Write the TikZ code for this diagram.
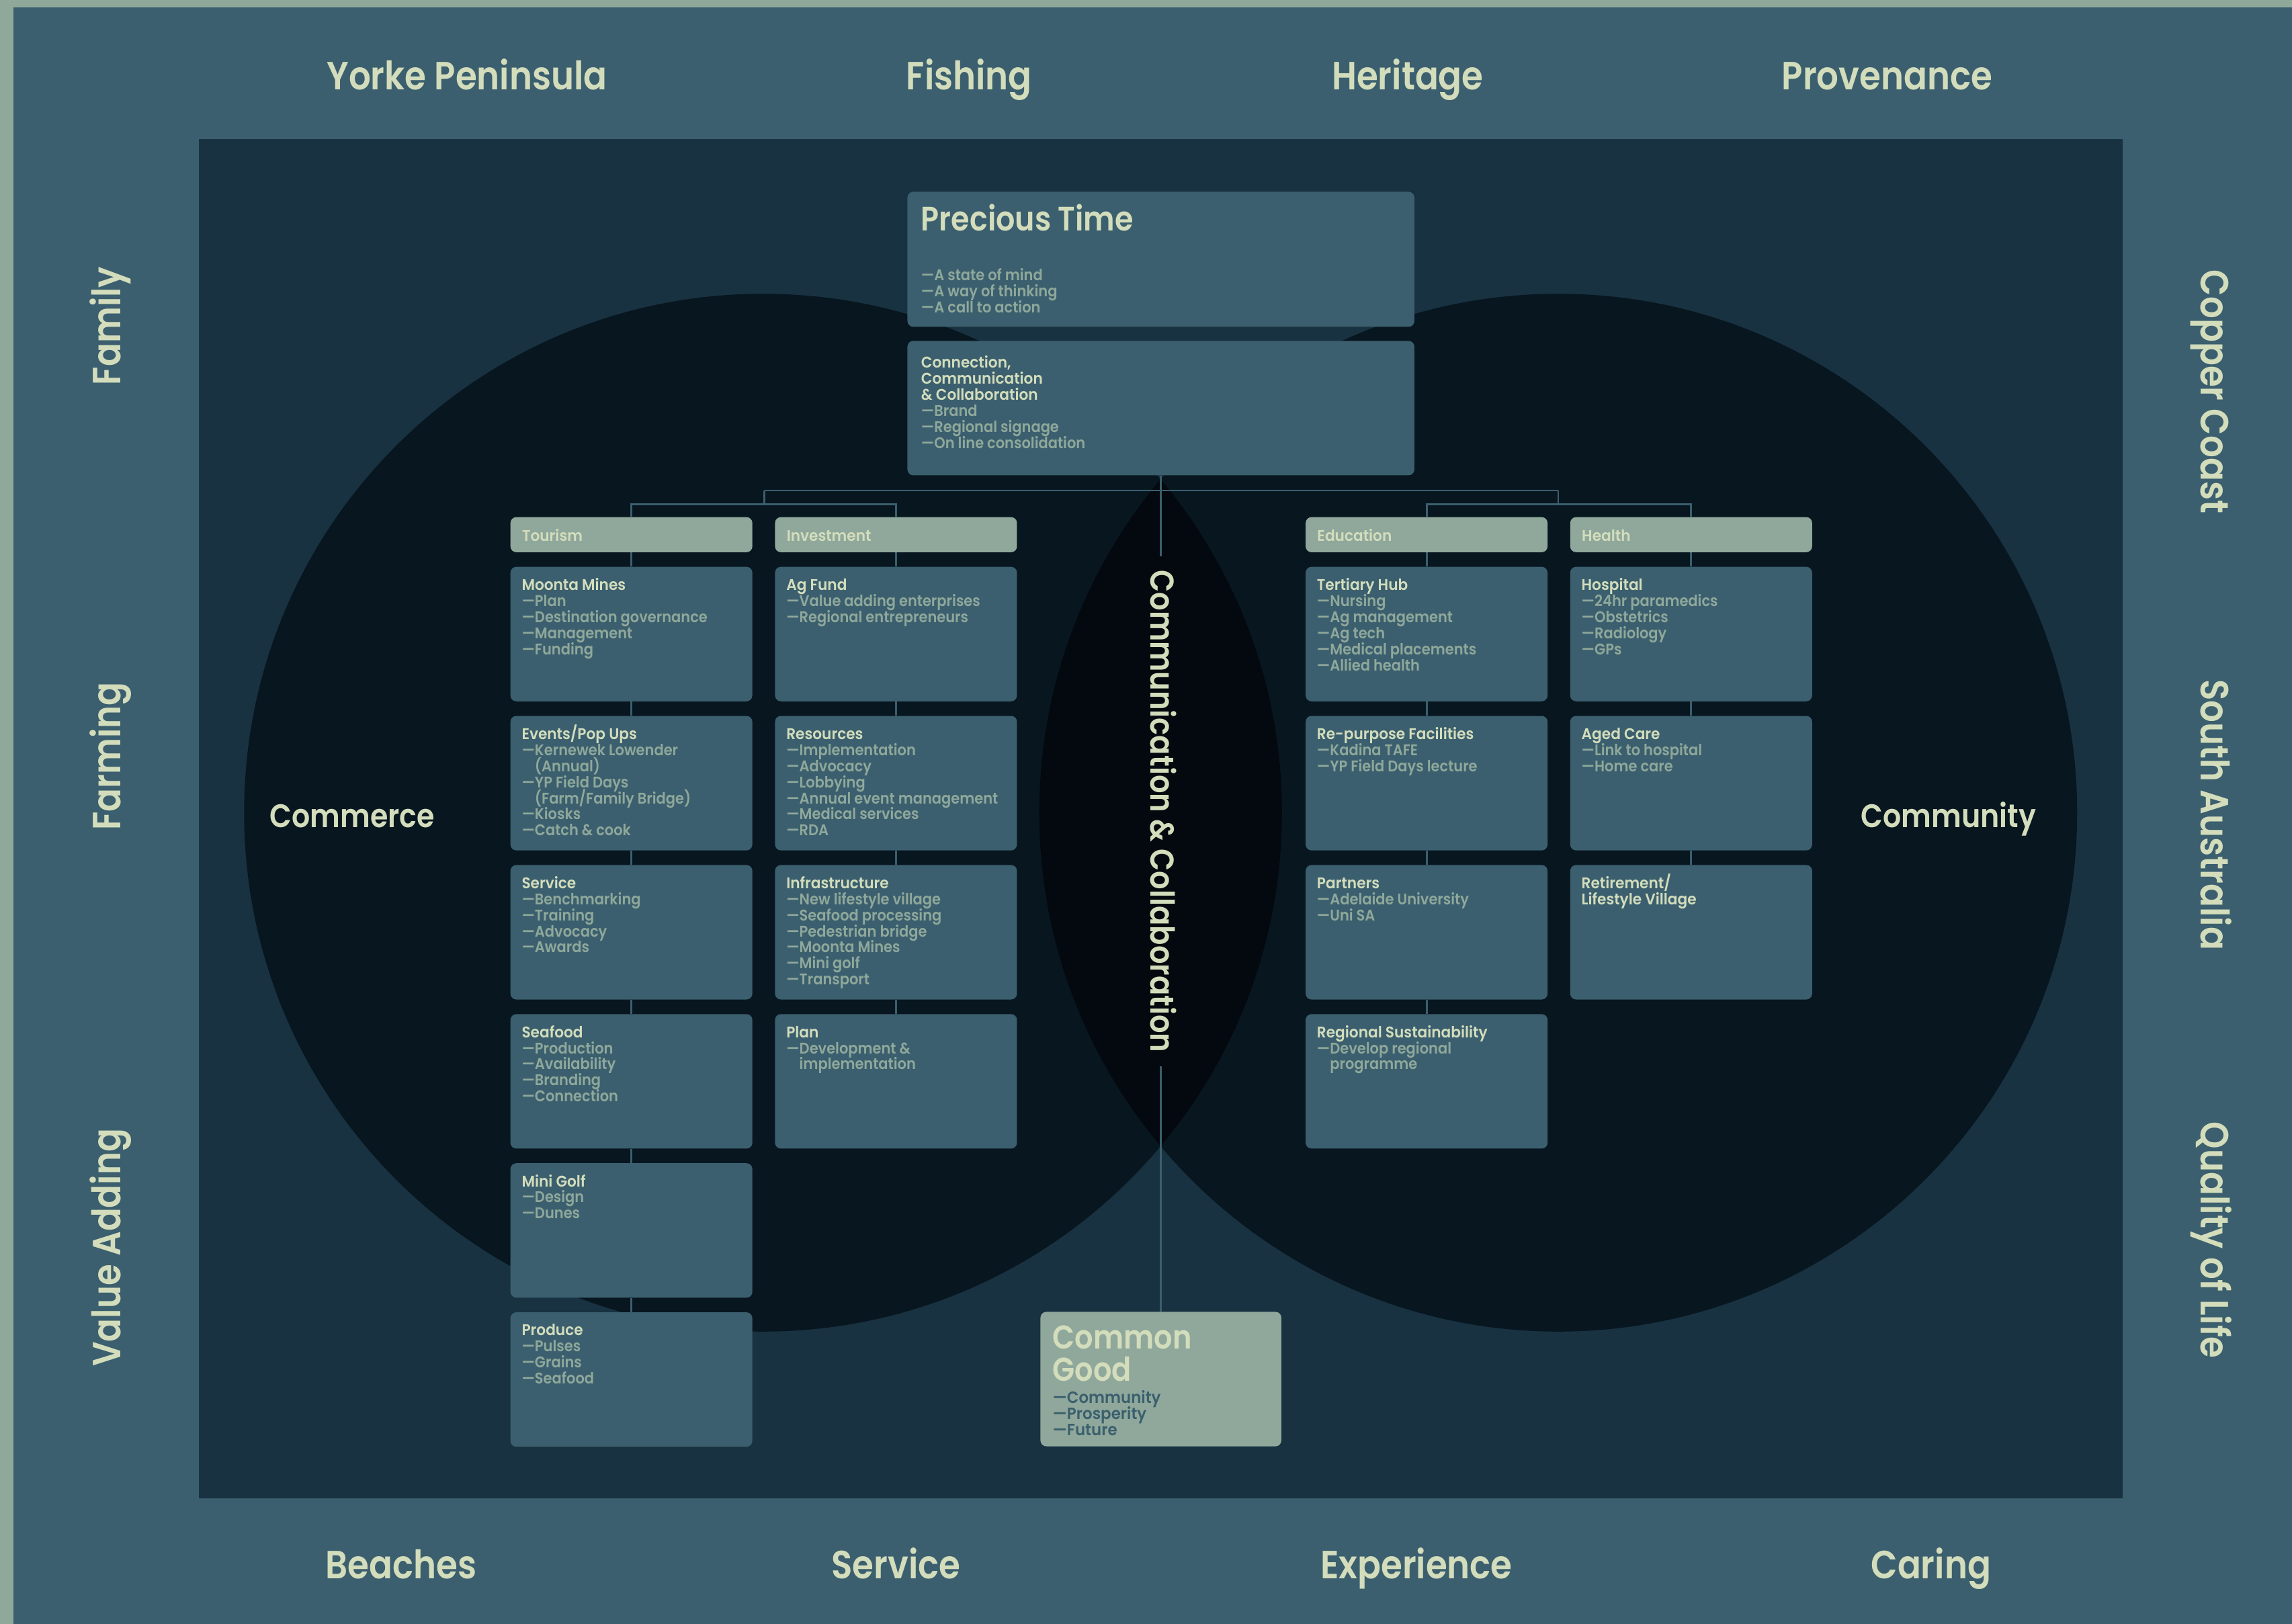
\documentclass[tikz,border=0pt]{standalone}
\usepackage{fontspec}
\setmainfont{Poppins}
\newfontfamily\fbig{Poppins SemiBold}[FakeStretch=0.88]
\newfontfamily\fsemi{Poppins SemiBold}[FakeStretch=0.94]
\newfontfamily\fmed{Poppins SemiBold}[FakeStretch=0.91]
\definecolor{frameblue}{HTML}{3B5F6E}
\definecolor{innerbg}{HTML}{183241}
\definecolor{circbg}{HTML}{081620}
\definecolor{lensbg}{HTML}{03090E}
\definecolor{sage}{HTML}{8FA89B}
\definecolor{cream}{HTML}{D3DDBC}
\definecolor{edgegrey}{HTML}{8FA89A}
\newcommand\ttl[1]{{\fsemi\color{cream}#1}\par}
\newcommand\itm[1]{{\fmed\color{sage}—#1}\par}
\newcommand\cnt[1]{{\fmed\color{sage}\phantom{—}#1}\par}
\newcommand\cbox[1]{\parbox[c][92pt][t]{150pt}{\fontsize{10.6}{11}\selectfont\raggedright\lineskiplimit=-20pt\rule{0pt}{16pt}#1}}
\tikzset{
  cbx/.style={fill=frameblue, rounded corners=4pt, inner xsep=7.75pt, inner ysep=0pt, anchor=north west, minimum width=165.5pt},
  hdr/.style={fill=sage, rounded corners=4pt, inner xsep=8pt, inner ysep=0pt, anchor=north west,
    minimum width=165.5pt, minimum height=24pt, text width=149.5pt, align=left, text height=8.8pt, text depth=0pt,
    font=\fsemi\fontsize{10.6}{11}\selectfont, text=cream},
  conn/.style={draw=frameblue, line width=1.3pt},
  outerlbl/.style={font=\fbig\fontsize{26.9}{27}\selectfont, text=cream, anchor=base, inner sep=0pt},
  midlbl/.style={font=\fbig\fontsize{22.3}{22}\selectfont, text=cream, anchor=base, inner sep=0pt},
}
\begin{document}
\begin{tikzpicture}[x=1pt,y=-1pt]
\useasboundingbox (0,0) rectangle (1568,1111);
\fill[frameblue] (0,0) rectangle (1568,1111);
\fill[edgegrey] (0,0) rectangle (1568,5);
\fill[edgegrey] (0,0) rectangle (9,1111);
\fill[innerbg] (136,95) rectangle (1452,1025);
\fill[circbg] (522,556) circle[radius=355pt];
\fill[circbg] (1066,556) circle[radius=355pt];
\begin{scope}
  \clip (522,556) circle[radius=355pt];
  \fill[lensbg] (1066,556) circle[radius=355pt];
\end{scope}

% outer labels
\node[outerlbl] (o1) at (319.5,61.3) {Yorke Peninsula};
\node[outerlbl] (o2) at (663,61.3) {Fishing};
\node[outerlbl] (o3) at (963,61.3) {Heritage};
\node[outerlbl] (o4) at (1291,61.3) {Provenance};
\node[outerlbl] (o5) at (274.5,1080) {Beaches};
\node[outerlbl] (o6) at (613,1080) {Service};
\node[outerlbl] (o7) at (969,1080) {Experience};
\node[outerlbl] (o8) at (1321,1080) {Caring};
\node[outerlbl, rotate=90] (o9) at (82.7,223) {Family};
\node[outerlbl, rotate=90] (o10) at (82.7,517.5) {Farming};
\node[outerlbl, rotate=90] (o11) at (82.7,853.5) {Value Adding};
\node[outerlbl, rotate=-90] (o12) at (1505.7,268) {Copper Coast};
\node[outerlbl, rotate=-90] (o13) at (1505.7,557.5) {South Australia};
\node[outerlbl, rotate=-90] (o14) at (1505.7,848.5) {Quality of Life};

\node[midlbl] (commerce) at (241,566) {Commerce};
\node[midlbl] (community) at (1333,566) {Community};
\node[midlbl, font=\fbig\fontsize{22.6}{22}\selectfont, rotate=-90, inner xsep=9pt] (cct) at (787,555) {Communication \& Collaboration};

% top boxes
\node[fill=frameblue, rounded corners=4pt, anchor=north west, inner xsep=9.4pt, inner ysep=0pt] (pt) at (620.6,131)
 {\parbox[c][92.4pt][t]{328pt}{\raggedright\lineskiplimit=-50pt
  {\fontsize{23.2}{22}\fbig\color{cream}\rule{0pt}{26.7pt}Precious Time\par}
  \fontsize{10.6}{11}\selectfont\vspace{23pt}
  \itm{A state of mind}\itm{A way of thinking}\itm{A call to action}}};
\node[fill=frameblue, rounded corners=4pt, anchor=north west, inner xsep=9.4pt, inner ysep=0pt] (cc) at (620.6,233)
 {\parbox[c][92pt][t]{328pt}{\fontsize{10.6}{11}\selectfont\raggedright\lineskiplimit=-20pt\rule{0pt}{18.5pt}%
  \ttl{Connection,}\ttl{Communication}\ttl{\& Collaboration}\itm{Brand}\itm{Regional signage}\itm{On line consolidation}}};

% common good
\node[fill=sage, rounded corners=4pt, anchor=north west, inner xsep=8.4pt, inner ysep=0pt] (cg) at (711.6,897.3)
 {\parbox[c][92pt][t]{148pt}{\raggedright\lineskiplimit=-50pt
  {\fontsize{22.5}{22.1}\fbig\color{cream}\rule{0pt}{25.4pt}Common\\Good\par}
  \fontsize{11.2}{11}\fsemi\vspace{4.2pt}{\color{frameblue}—Community\\—Prosperity\\—Future\par}}};

% headers
\node[hdr] (tou) at (349,353.6) {Tourism};
\node[hdr] (inv) at (530,353.6) {Investment};
\node[hdr] (edu) at (893,353.6) {Education};
\node[hdr] (hea) at (1074,353.6) {Health};

% tourism column
\node[cbx] (t1) at (349,387.6) {\cbox{\ttl{Moonta Mines}\itm{Plan}\itm{Destination governance}\itm{Management}\itm{Funding}}};
\node[cbx] (t2) at (349,489.6) {\cbox{\ttl{Events/Pop Ups}\itm{Kernewek Lowender}\cnt{(Annual)}\itm{YP Field Days}\cnt{(Farm/Family Bridge)}\itm{Kiosks}\itm{Catch \& cook}}};
\node[cbx] (t3) at (349,591.6) {\cbox{\ttl{Service}\itm{Benchmarking}\itm{Training}\itm{Advocacy}\itm{Awards}}};
\node[cbx] (t4) at (349,693.6) {\cbox{\ttl{Seafood}\itm{Production}\itm{Availability}\itm{Branding}\itm{Connection}}};
\node[cbx] (t5) at (349,795.6) {\cbox{\ttl{Mini Golf}\itm{Design}\itm{Dunes}}};
\node[cbx] (t6) at (349,897.6) {\cbox{\ttl{Produce}\itm{Pulses}\itm{Grains}\itm{Seafood}}};

% investment column
\node[cbx] (i1) at (530,387.6) {\cbox{\ttl{Ag Fund}\itm{Value adding enterprises}\itm{Regional entrepreneurs}}};
\node[cbx] (i2) at (530,489.6) {\cbox{\ttl{Resources}\itm{Implementation}\itm{Advocacy}\itm{Lobbying}\itm{Annual event management}\itm{Medical services}\itm{RDA}}};
\node[cbx] (i3) at (530,591.6) {\cbox{\ttl{Infrastructure}\itm{New lifestyle village}\itm{Seafood processing}\itm{Pedestrian bridge}\itm{Moonta Mines}\itm{Mini golf}\itm{Transport}}};
\node[cbx] (i4) at (530,693.6) {\cbox{\ttl{Plan}\itm{Development \&}\cnt{implementation}}};

% education column
\node[cbx] (e1) at (893,387.6) {\cbox{\ttl{Tertiary Hub}\itm{Nursing}\itm{Ag management}\itm{Ag tech}\itm{Medical placements}\itm{Allied health}}};
\node[cbx] (e2) at (893,489.6) {\cbox{\ttl{Re-purpose Facilities}\itm{Kadina TAFE}\itm{YP Field Days lecture}}};
\node[cbx] (e3) at (893,591.6) {\cbox{\ttl{Partners}\itm{Adelaide University}\itm{Uni SA}}};
\node[cbx] (e4) at (893,693.6) {\cbox{\ttl{Regional Sustainability}\itm{Develop regional}\cnt{programme}}};

% health column
\node[cbx] (h1) at (1074,387.6) {\cbox{\ttl{Hospital}\itm{24hr paramedics}\itm{Obstetrics}\itm{Radiology}\itm{GPs}}};
\node[cbx] (h2) at (1074,489.6) {\cbox{\ttl{Aged Care}\itm{Link to hospital}\itm{Home care}}};
\node[cbx] (h3) at (1074,591.6) {\cbox{\ttl{Retirement/}\ttl{Lifestyle Village}}};

% connectors
\coordinate (hl) at (523,335.6);
\coordinate (hr) at (1066,335.6);
\coordinate (bl) at (523,345);
\coordinate (br) at (1066,345);
\draw[conn] (hl) -- (hr);
\draw[conn] (hl) -- (bl);
\draw[conn] (hr) -- (br);
\draw[conn] (tou.north) |- (bl) -| (inv.north);
\draw[conn] (edu.north) |- (br) -| (hea.north);
\draw[conn] (cc.south) -- (cc.south |- cct.west);
\draw[conn] (cg.north |- cct.east) -- (cg.north);
\draw[conn] (tou.south) -- (t1.north);
\draw[conn] (t1.south) -- (t2.north);
\draw[conn] (t2.south) -- (t3.north);
\draw[conn] (t3.south) -- (t4.north);
\draw[conn] (t4.south) -- (t5.north);
\draw[conn] (t5.south) -- (t6.north);
\draw[conn] (inv.south) -- (i1.north);
\draw[conn] (i1.south) -- (i2.north);
\draw[conn] (i2.south) -- (i3.north);
\draw[conn] (i3.south) -- (i4.north);
\draw[conn] (edu.south) -- (e1.north);
\draw[conn] (e1.south) -- (e2.north);
\draw[conn] (e2.south) -- (e3.north);
\draw[conn] (e3.south) -- (e4.north);
\draw[conn] (hea.south) -- (h1.north);
\draw[conn] (h1.south) -- (h2.north);
\draw[conn] (h2.south) -- (h3.north);
\end{tikzpicture}
\end{document}
